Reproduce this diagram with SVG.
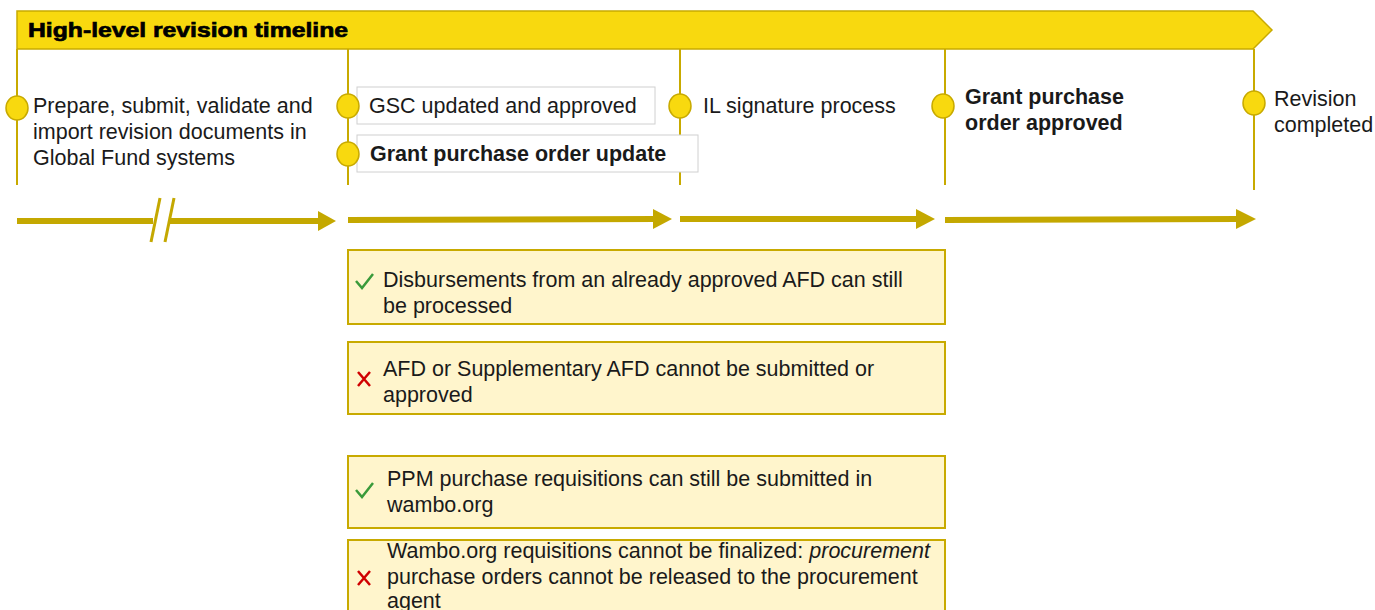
<svg xmlns="http://www.w3.org/2000/svg" width="1375" height="610" viewBox="0 0 1375 610">
<style>
text{font-family:"Liberation Sans",Arial,sans-serif;font-size:21.5px;fill:#1a1a1a}
.b{font-weight:bold}
.vl{stroke:#C8AA00;stroke-width:2;fill:none}
.dot{fill:#F8D90F;stroke:#C8AA00;stroke-width:1.5}
.lbl{fill:#fff;stroke:#d0d0d0;stroke-width:1}
.arr{stroke:#C4A800;stroke-width:6;fill:none}
.ah{fill:#C4A800}
.info{fill:#FFF5CC;stroke:#C8AA00;stroke-width:2}
.ok{stroke:#3A9A3A;stroke-width:2.5;fill:none}
.no{stroke:#D00000;stroke-width:2.5;fill:none}
</style>
<rect width="1375" height="610" fill="#fff"/>
<g id="banner">
<polygon points="17,11 1253,11 1272,30 1253,49 17,49" fill="#F8D90F" stroke="#C8AA00" stroke-width="1.5"/>
<text x="28" y="37" class="b" textLength="320" lengthAdjust="spacingAndGlyphs" style="font-size:21px;fill:#000;stroke:#000;stroke-width:0.7">High-level revision timeline</text>
</g>
<g id="connectors">
<line class="vl" x1="17" y1="49" x2="17" y2="185"/>
<line class="vl" x1="348" y1="49" x2="348" y2="185"/>
<line class="vl" x1="680" y1="49" x2="680" y2="185"/>
<line class="vl" x1="945" y1="49" x2="945" y2="185"/>
<line class="vl" x1="1254" y1="49" x2="1254" y2="190"/>
<line class="arr" x1="17" y1="221" x2="153" y2="221"/>
<line class="arr" x1="170" y1="221" x2="320" y2="221"/>
<polygon class="ah" points="318,211 336,221 318,231"/>
<line x1="151" y1="242" x2="160" y2="198" stroke="#C4A800" stroke-width="3"/>
<line x1="165" y1="242" x2="174" y2="198" stroke="#C4A800" stroke-width="3"/>
<line class="arr" x1="348" y1="220" x2="655" y2="219"/>
<polygon class="ah" points="653,209 672,219 653,229"/>
<line class="arr" x1="680" y1="219" x2="918" y2="219"/>
<polygon class="ah" points="916,209 935,219 916,229"/>
<line class="arr" x1="945" y1="220" x2="1238" y2="219"/>
<polygon class="ah" points="1236,209 1256,219 1236,229"/>
</g>
<g id="n1">
<ellipse class="dot" cx="17" cy="108" rx="11" ry="12"/>
<text x="33" y="113">Prepare, submit, validate and</text>
<text x="33" y="139">import revision documents in</text>
<text x="33" y="165">Global Fund systems</text>
</g>
<g id="n2">
<rect class="lbl" x="357" y="87" width="298" height="37"/>
<ellipse class="dot" cx="348" cy="106" rx="11" ry="12"/>
<text x="369" y="113">GSC updated and approved</text>
</g>
<g id="n3">
<rect class="lbl" x="357" y="135" width="341" height="37"/>
<ellipse class="dot" cx="348" cy="154" rx="11" ry="12"/>
<text x="370" y="161" class="b">Grant purchase order update</text>
</g>
<g id="n4">
<ellipse class="dot" cx="680" cy="106" rx="11" ry="12"/>
<text x="703" y="113">IL signature process</text>
</g>
<g id="n5">
<ellipse class="dot" cx="943" cy="106" rx="11" ry="12"/>
<text x="965" y="104" class="b">Grant purchase</text>
<text x="965" y="130" class="b">order approved</text>
</g>
<g id="n6">
<ellipse class="dot" cx="1254" cy="103" rx="11" ry="12"/>
<text x="1274" y="106">Revision</text>
<text x="1274" y="132">completed</text>
</g>
<g id="box1">
<rect class="info" x="348" y="250" width="597" height="74"/>
<polyline class="ok" points="356,281 362,288 373,274"/>
<text x="383" y="287">Disbursements from an already approved AFD can still</text>
<text x="383" y="313">be processed</text>
</g>
<g id="box2">
<rect class="info" x="348" y="342" width="597" height="72"/>
<path class="no" d="M358,372 L370,386 M370,372 L358,386"/>
<text x="383" y="376">AFD or Supplementary AFD cannot be submitted or</text>
<text x="383" y="402">approved</text>
</g>
<g id="box3">
<rect class="info" x="348" y="456" width="597" height="72"/>
<polyline class="ok" points="356,490 362,497 373,483"/>
<text x="387" y="486">PPM purchase requisitions can still be submitted in</text>
<text x="387" y="512">wambo.org</text>
</g>
<g id="box4">
<rect class="info" x="348" y="540" width="597" height="80"/>
<path class="no" d="M358,571 L370,585 M370,571 L358,585"/>
<text x="387" y="558">Wambo.org requisitions cannot be finalized: <tspan font-style="italic">procurement</tspan></text>
<text x="387" y="584">purchase orders cannot be released to the procurement</text>
<text x="387" y="608">agent</text>
</g>
</svg>
